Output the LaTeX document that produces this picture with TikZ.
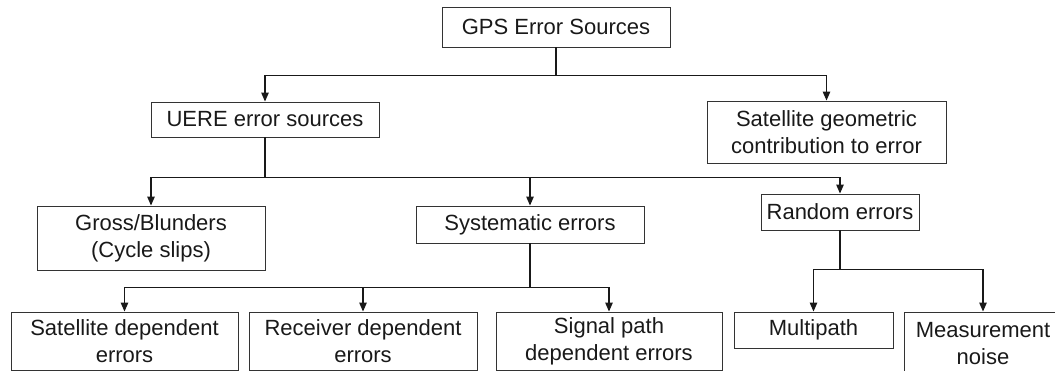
\documentclass[tikz,border=0pt]{standalone}
\usepackage{fontspec}
\setmainfont{Liberation Sans}
\usetikzlibrary{arrows.meta}
\tikzset{
  box/.style={draw=black!80, line width=0.9pt, rectangle, align=center,
    inner sep=0pt, font=\fontsize{22}{27}\selectfont, text=black!90},
  arr/.style={line width=1.2pt, draw=black!90, -{Triangle[length=9pt,width=7.5pt]}},
}
\begin{document}
\begin{tikzpicture}[x=1pt, y=-1pt]
\useasboundingbox (0,0) rectangle (1055,371);
\clip (0,0) rectangle (1055,371);

% top level
\node[box, minimum width=228pt, minimum height=40pt] (gps) at (556,27) {GPS Error Sources};

% second level
\node[box, minimum width=228pt, minimum height=35pt] (uere) at (265,119.5) {UERE error sources};
\node[box, minimum width=239pt, minimum height=62pt] (geo) at (826.5,132) {Satellite geometric\\contribution to error};

% third level
\node[box, minimum width=228pt, minimum height=64pt] (gross) at (151,238) {Gross/Blunders\\(Cycle slips)};
\node[box, minimum width=228pt, minimum height=37pt] (syst) at (530,224.5) {Systematic errors};
\node[box, minimum width=158pt, minimum height=36pt] (rand) at (840,212) {Random errors};

% bottom level
\node[box, minimum width=227pt, minimum height=58pt] (satdep) at (124.5,341) {Satellite dependent\\errors};
\node[box, minimum width=228pt, minimum height=58pt] (recv) at (363,341) {Receiver dependent\\errors};
\node[box, minimum width=226pt, minimum height=58pt] (sig) at (609,341) {Signal path\\dependent errors};
\node[box, minimum width=159pt, minimum height=36pt] (multi) at (813.5,330) {Multipath};
\node[box, minimum width=158pt, minimum height=64pt] (meas) at (983,344) {Measurement\\noise};

% connectors
\draw[arr] (gps.south) -- ++(0,28) -| (uere.north);
\draw[arr] (gps.south) -- ++(0,28) -| (geo.north);

\draw[arr] (uere.south) -- ++(0,40) -| (gross.north);
\draw[arr] (uere.south) -- ++(0,40) -| (syst.north);
\draw[arr] (uere.south) -- ++(0,40) -| (rand.north);

\draw[arr] (syst.south) -- ++(0,44) -| (satdep.north);
\draw[arr] (syst.south) -- ++(0,44) -| (recv.north);
\draw[arr] (syst.south) -- ++(0,44) -| (sig.north);

\draw[arr] (rand.south) -- ++(0,39) -| (multi.north);
\draw[arr] (rand.south) -- ++(0,39) -| (meas.north);
\end{tikzpicture}
\end{document}
